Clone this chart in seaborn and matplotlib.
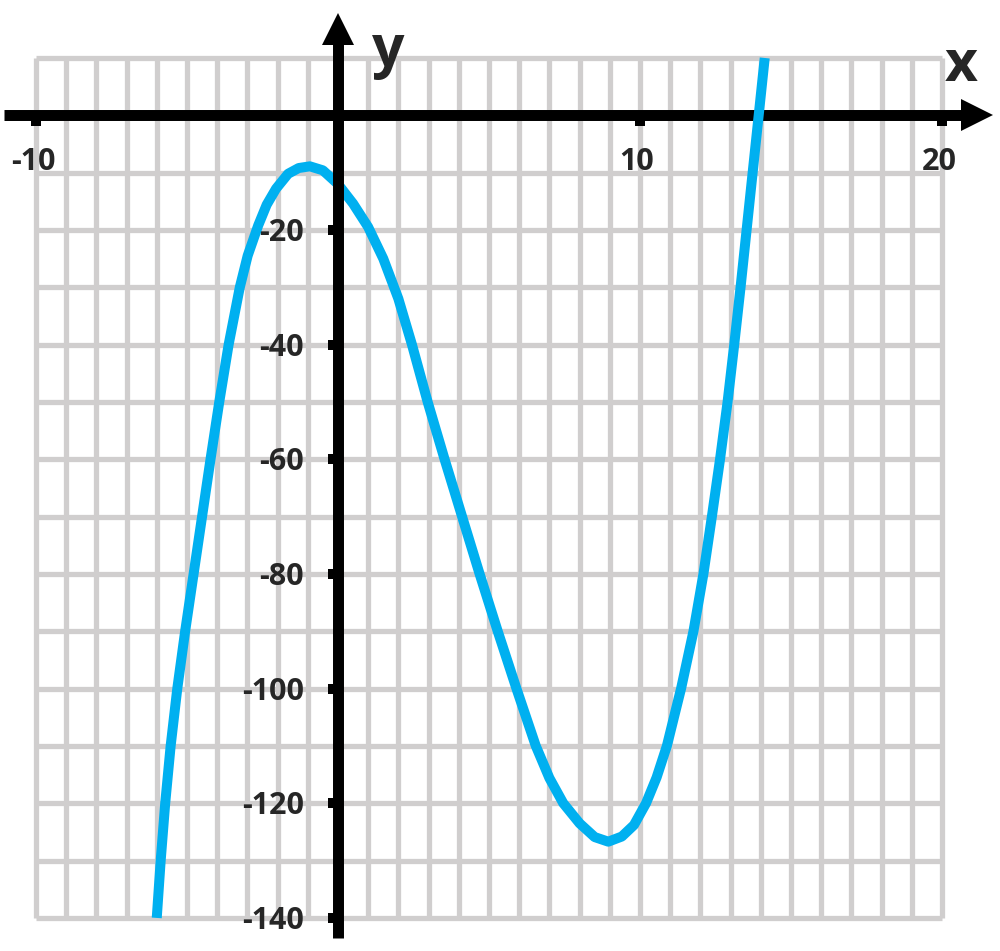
import matplotlib
matplotlib.use("Agg")
import matplotlib.pyplot as plt
import seaborn as sns

# points (x, y)
x_vals = [-6.0, -5.87, -5.72, -5.54, -5.32, -5.06, -4.78, -4.50, -4.22, -3.93,
          -3.62, -3.25, -2.99, -2.64, -2.36, -2.05, -1.65, -1.3, -0.93, -0.5,
          0.0, 0.5, 1.0, 1.5, 2.0, 2.45, 2.97, 3.53, 4.11, 4.69,
          5.29, 5.91, 6.55, 7.0, 7.46, 8.0, 8.5, 8.95, 9.4, 9.8,
          10.2, 10.55, 10.89, 11.36, 11.77, 12.1, 12.38, 12.65, 12.9, 13.12,
          13.33, 13.53, 13.73, 13.93, 14.13]
y_vals = [-140, -130, -120, -110, -100, -90, -80, -70, -60, -50,
          -40, -30, -24.5, -19.2, -15.6, -12.8, -10.2, -9.2, -8.9, -9.6,
          -12.0, -15.4, -19.5, -25.0, -32.0, -40, -50, -60, -70, -80,
          -90, -100, -110, -115.6, -120, -123.5, -125.9, -126.7, -125.8, -123.8,
          -120, -115.5, -110, -100, -90, -80, -70, -60, -50, -40,
          -30, -20, -10, 0, 10]

x_ticks = [-10, 10, 20]
y_ticks = [-20, -40, -60, -80, -100, -120, -140]

sns.set_style("white")
plt.rcParams["font.family"] = ["Open Sans", "DejaVu Sans"]

fig = plt.figure(figsize=(10, 9.51), dpi=100)
ax = fig.add_axes([0, 0, 1, 1])
ax.set_xlim(-11.19, 21.92)
ax.set_ylim(-145.77, 20.11)
ax.axis("off")

# grid, 1 unit wide, 10 units tall
grid_col = "#d0cece"
ax.vlines(range(-10, 21), -140, 10, color=grid_col, lw=3.8, zorder=1)
ax.hlines(range(-140, 11, 10), -10, 20, color=grid_col, lw=3.8, zorder=1)

# x axis with arrow
ax.plot([-11.06, 21.16], [0, 0], color="black", lw=7.9, solid_capstyle="butt", zorder=2)
ax.plot([21.16], [0], marker=">", ms=23, color="black", mew=0, zorder=2)
ax.plot(x_ticks, [-1.0] * len(x_ticks), "s", ms=7.2, color="black", mew=0, zorder=2)

# the curve
sns.lineplot(x=x_vals, y=y_vals, color="#00b0f0", lw=7.2, ax=ax,
             solid_capstyle="butt", solid_joinstyle="round", zorder=3)

# y axis with arrow
ax.plot([0, 0], [-143.5, 12.6], color="black", lw=7.9, solid_capstyle="butt", zorder=4)
ax.plot([0], [15.0], marker="^", ms=23, color="black", mew=0, zorder=4)
ax.plot([-0.166] * len(y_ticks), y_ticks, "s", ms=7.2, color="black", mew=0, zorder=4)

for t in x_ticks:
    ax.text(t - 0.1, -9.54, str(t), ha="center", va="baseline",
            fontsize=22, fontweight="bold", zorder=5)
for t in y_ticks:
    ax.text(-1.13, t - 1.92, str(t), ha="right", va="baseline",
            fontsize=22, fontweight="bold", zorder=5)

ax.text(1.66, 8.6, "y", ha="center", va="baseline", fontsize=41, fontweight="bold")
ax.text(20.63, 6.0, "x", ha="center", va="baseline", fontsize=41, fontweight="bold")

fig.savefig("out.png", dpi=100)
